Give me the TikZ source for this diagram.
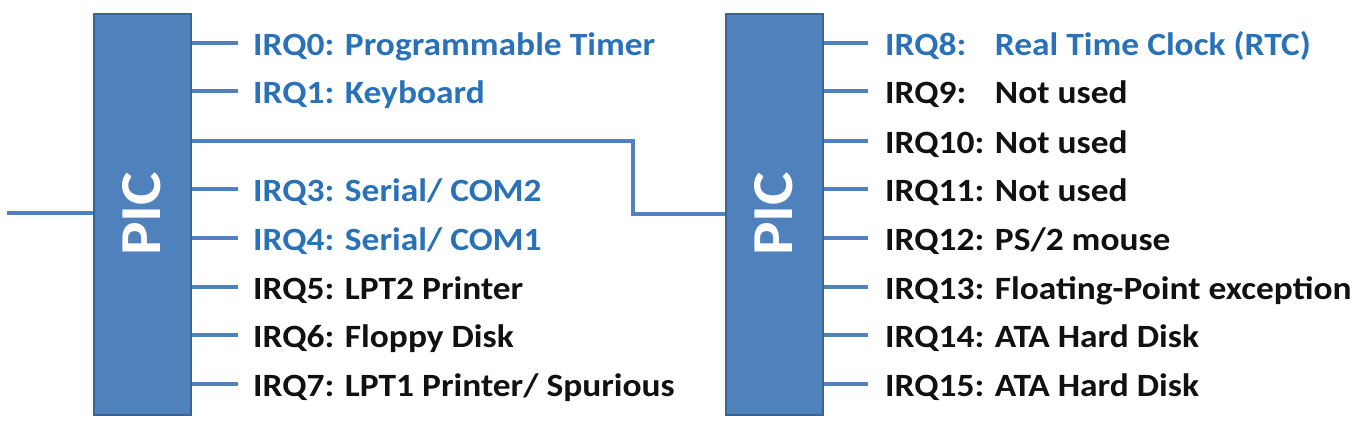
\documentclass[tikz,border=0pt]{standalone}
\usepackage{fontspec}
\setmainfont{Carlito}[FakeStretch=1.09]
\usepackage{graphicx}
\definecolor{boxfill}{HTML}{4F81BD}
\definecolor{boxline}{HTML}{3A6494}
\definecolor{wirec}{HTML}{5282BE}
\definecolor{bluetxt}{HTML}{2A72B8}
\definecolor{blacktxt}{HTML}{111111}
\begin{document}
\begin{tikzpicture}[x=1pt,y=-1pt,
  picbox/.style={draw=boxline, line width=2pt, fill=boxfill, minimum width=97pt, minimum height=401pt, inner sep=0pt, text=white, font=\fontsize{58}{58}\selectfont\bfseries},
  wire/.style={draw=wirec, line width=3.6pt},
  lbl/.style={anchor=base west, inner sep=0pt, font=\fontsize{32.5}{33}\selectfont\bfseries},
  blu/.style={lbl, text=bluetxt},
  blk/.style={lbl, text=blacktxt}]
\useasboundingbox (0,0) rectangle (1360,421);
\node[picbox] (L) at (142,214) {\rotatebox{90}{PIC}};
\node[picbox] (R) at (774,214) {\rotatebox{90}{PIC}};
% left input
\coordinate (in) at (7,213);
\draw[wire] (in) -- (L.west |- in);
% cascade connector
\coordinate (c2) at (633,141);
\draw[wire] (L.east |- c2) -- (c2) |- (R.west);
% left stubs
\foreach \i/\y in {0/43,1/91,3/189,4/238,5/287,6/335,7/384}{
  \coordinate (ls\i) at (238,\y);
  \draw[wire] (L.east |- ls\i) -- (ls\i);
}
\foreach \i/\y in {8/43,9/91,10/141,11/189,12/238,13/287,14/335,15/384}{
  \coordinate (rs\i) at (868,\y);
  \draw[wire] (R.east |- rs\i) -- (rs\i);
}
\def\rb#1{\makebox[0pt][l]{#1}\phantom{IRQ10: }}
\node[blu] (t0) at (253,55) {IRQ0: Programmable Timer};
\node[blu] (t1) at (253,103) {IRQ1: Keyboard};
\node[blu] (t3) at (253,201) {IRQ3: Serial/ COM2};
\node[blu] (t4) at (253,250) {IRQ4: Serial/ COM1};
\node[blk] (t5) at (253,299) {IRQ5: LPT2 Printer};
\node[blk] (t6) at (253,347) {IRQ6: Floppy Disk};
\node[blk] (t7) at (253,396) {IRQ7: LPT1 Printer/ Spurious};
\node[blu] (t8) at (885,55) {\rb{IRQ8:}Real Time Clock (RTC)};
\node[blk] (t9) at (885,103) {\rb{IRQ9:}Not used};
\node[blk] (t10) at (885,153) {IRQ10: Not used};
\node[blk] (t11) at (885,201) {IRQ11: Not used};
\node[blk] (t12) at (885,250) {IRQ12: PS/2 mouse};
\node[blk] (t13) at (885,299) {IRQ13: Floating-Point exception};
\node[blk] (t14) at (885,347) {IRQ14: ATA Hard Disk};
\node[blk] (t15) at (885,396) {IRQ15: ATA Hard Disk};
\end{tikzpicture}
\end{document}
